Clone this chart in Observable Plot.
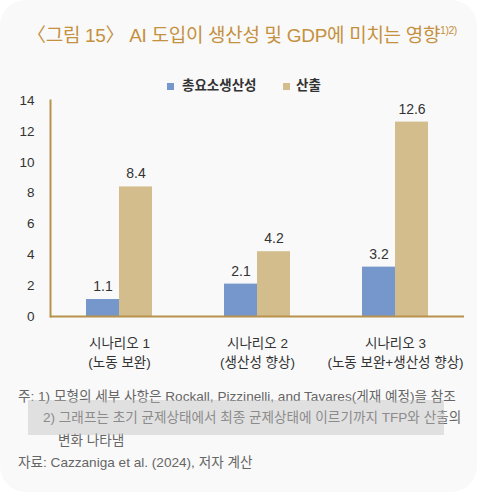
<!DOCTYPE html>
<html>
<head>
<meta charset="utf-8">
<script src="https://cdn.jsdelivr.net/npm/d3@7"></script>
<script src="https://cdn.jsdelivr.net/npm/@observablehq/plot@0.6"></script>
<style>
  body { margin: 0; background: #fff; font-family: "Liberation Sans", "Noto Sans CJK KR", sans-serif; }
  #card { position: relative; width: 477px; height: 492px; background: #f9f9f9; border-radius: 26px; overflow: hidden; }
  #title { position: absolute; left: 27px; top: 20px; font-size: 19px; color: #c4913f; white-space: nowrap; letter-spacing: -0.3px; }
  #title sup { font-size: 10.5px; vertical-align: 8px; letter-spacing: -0.5px; }
  #legend { position: absolute; left: 0; top: 76px; width: 477px; height: 20px; font-size: 13.5px; font-weight: bold; color: #333; }
  #legend span.sw { position: absolute; width: 7px; height: 7px; top: 7px; }
  #legend span.lb { position: absolute; top: 0; white-space: nowrap; line-height: 20px; }
  #plot { position: absolute; left: 0; top: 92px; }
  .note { position: absolute; font-size: 13.6px; line-height: 18px; color: #666; white-space: nowrap; }
  #wm { position: absolute; left: 28px; top: 400px; width: 416px; height: 35px; background: rgba(190,190,190,0.42); }
</style>
</head>
<body>
<div id="card">
  <div id="title">〈그림 15〉 AI 도입이 생산성 및 GDP에 미치는 영향<sup>1)2)</sup></div>
  <div id="legend"></div>
  <div id="plot"></div>
  <div class="note" style="left:18px; top:388px;">주: 1) 모형의 세부 사항은 Rockall, Pizzinelli, and Tavares(게재 예정)을 참조</div>
  <div class="note" style="left:43px; top:409px;">2) 그래프는 초기 균제상태에서 최종 균제상태에 이르기까지 TFP와 산출의</div>
  <div class="note" style="left:58px; top:432px;">변화 나타냄</div>
  <div class="note" style="left:18px; top:454px;">자료: Cazzaniga et al. (2024), 저자 계산</div>
  <div id="wm"></div>
</div>
<script>
const scenarios = ["시나리오 1\n(노동 보완)", "시나리오 2\n(생산성 향상)", "시나리오 3\n(노동 보완+생산성 향상)"];
const series = ["총요소생산성", "산출"];
const tfp = [1.1, 2.1, 3.2];
const output = [8.4, 4.2, 12.6];
const yTicks = [0, 2, 4, 6, 8, 10, 12, 14];
const colors = ["#7697cb", "#d4bd8d"];

const rows = scenarios.flatMap((s, i) => [
  {scenario: s, series: series[0], value: tfp[i]},
  {scenario: s, series: series[1], value: output[i]}
]);

// legend
const legend = document.getElementById("legend");
const legendPos = [[167, 182], [283, 296]];
series.forEach((name, i) => {
  const sw = document.createElement("span");
  sw.className = "sw";
  sw.style.left = legendPos[i][0] + "px";
  sw.style.background = colors[i];
  const lb = document.createElement("span");
  lb.className = "lb";
  lb.style.left = legendPos[i][1] + "px";
  lb.textContent = name;
  legend.append(sw, lb);
});

const axisColor = "#b8914c";

const chart = Plot.plot({
  width: 477,
  height: 285,
  marginLeft: 49,
  marginRight: 13,
  marginTop: 8,
  marginBottom: 61,
  style: {background: "transparent", fontFamily: "Liberation Sans, Noto Sans CJK KR, sans-serif", color: "#333"},
  fx: {domain: scenarios, padding: 0, label: null},
  x: {domain: series, paddingInner: 0, paddingOuter: 1.08, axis: null},
  y: {domain: [0, 14], label: null},
  color: {domain: series, range: colors},
  marks: [
    Plot.barY(rows, {fx: "scenario", x: "series", y: "value", fill: "series", inset: 0}),
    Plot.text(rows, {fx: "scenario", x: "series", y: "value", text: d => d3.format(".1f")(d.value),
      dy: -13, fontSize: 14, fill: "#333"}),
    Plot.ruleY([0], {stroke: axisColor, strokeWidth: 2}),
    Plot.frame({anchor: "left", facetAnchor: "left", stroke: axisColor, strokeWidth: 2}),
    Plot.axisY({ticks: yTicks, tickSize: 0, tickPadding: 16, fontSize: 13.5, label: null}),
    Plot.axisFx({anchor: "bottom", tickSize: 0, tickPadding: 18, fontSize: 13.5, lineHeight: 1.4, label: null})
  ]
});
document.getElementById("plot").append(chart);
</script>
</body>
</html>
